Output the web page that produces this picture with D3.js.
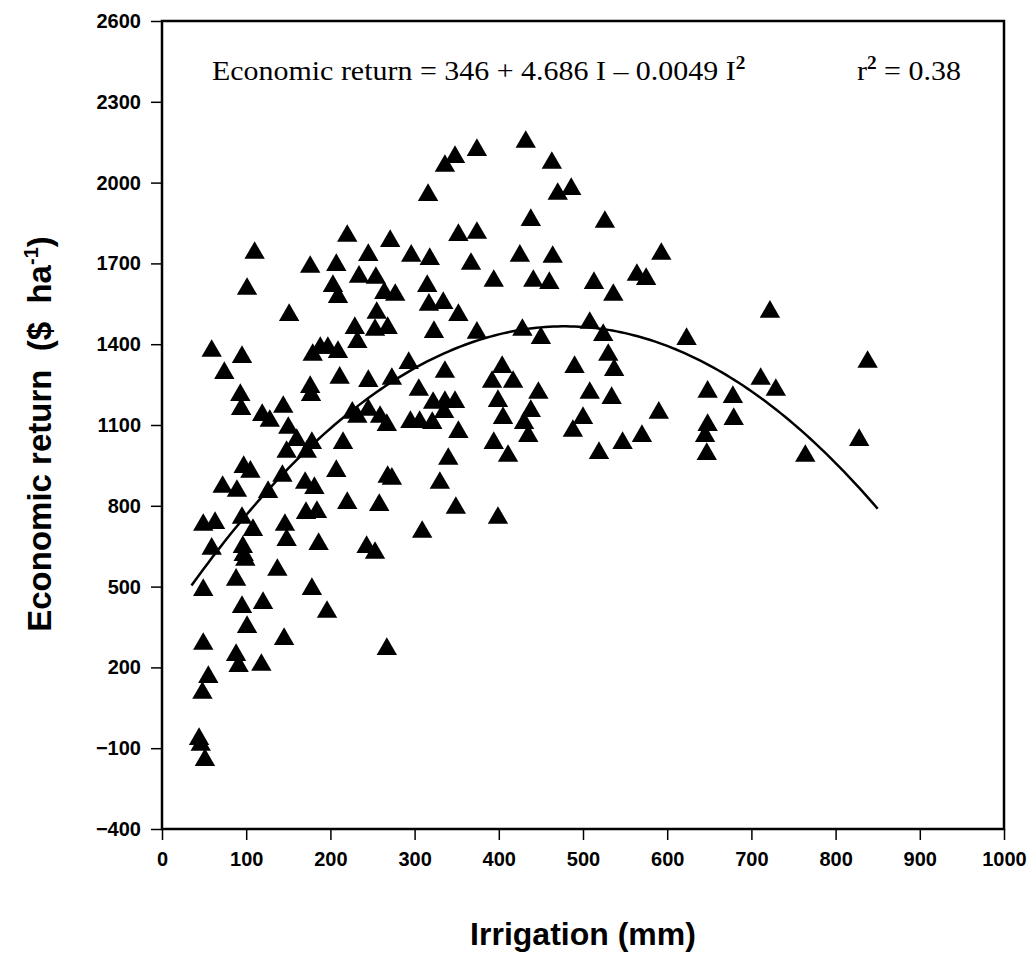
<!DOCTYPE html>
<html>
<head>
<meta charset="utf-8">
<script src="https://cdn.jsdelivr.net/npm/d3@7"></script>
<style>
  body { margin: 0; background: #fff; }
</style>
</head>
<body>
<svg id="chart" width="1032" height="969"></svg>
<script>
// observed points (irrigation mm, economic return $/ha)
const irrigation = [
  101, 110, 176, 207, 220, 234, 254, 245, 271, 296, 318, 316, 336, 348, 374, 432,
  463, 470, 486, 438, 526, 352, 374, 425, 464, 593, 367, 394, 441, 460, 513, 564,
  575, 203, 209, 264, 277, 315, 536, 317, 334, 352, 151, 255, 229, 253, 268, 232,
  323, 374, 428, 450, 508, 524, 623, 59, 95, 74, 179, 188, 197, 209, 176, 177,
  211, 245, 273, 293, 336, 404, 490, 530, 537, 722, 838, 711, 729, 678, 679, 648,
  93, 94, 119, 128, 144, 150, 160, 178, 215, 226, 232, 245, 259, 267, 295, 306,
  321, 305, 322, 336, 348, 335, 392, 417, 399, 447, 508, 534, 405, 438, 430, 435,
  500, 488, 590, 648, 645, 352, 394, 411, 519, 547, 570, 647, 764, 828, 148, 172,
  340, 330, 273, 349, 399, 309, 97, 105, 72, 89, 143, 126, 170, 181, 207, 268,
  49, 63, 95, 108, 146, 148, 171, 184, 220, 258, 186, 243, 253, 59, 96, 97,
  99, 137, 49, 88, 95, 120, 101, 145, 178, 196, 49, 267, 88, 91, 118, 55,
  48, 44, 46, 51
];
const economicReturn = [
  1605, 1739, 1687, 1694, 1802, 1650, 1646, 1731, 1783, 1728, 1716, 1954, 2062, 2095, 2121, 2151,
  2073, 1958, 1976, 1861, 1854, 1805, 1813, 1728, 1724, 1735, 1698, 1635, 1635, 1627, 1627, 1657,
  1642, 1616, 1575, 1590, 1583, 1616, 1583, 1546, 1553, 1508, 1508, 1516, 1460, 1453, 1460, 1408,
  1445, 1442, 1453, 1423, 1479, 1434, 1419, 1375, 1352, 1293, 1360, 1386, 1386, 1371, 1241, 1211,
  1275, 1263, 1271, 1330, 1297, 1315, 1315, 1360, 1304, 1520, 1334, 1271, 1230, 1204, 1122, 1223,
  1211, 1159, 1137, 1115, 1167, 1089, 1044, 1033, 1033, 1145, 1130, 1156, 1130, 1100, 1111, 1111,
  1107, 1230, 1182, 1185, 1185, 1148, 1260, 1260, 1189, 1219, 1219, 1200, 1126, 1152, 1107, 1059,
  1126, 1078, 1145, 1100, 1059, 1074, 1033, 985, 996, 1033, 1059, 992, 985, 1044, 1000, 1000,
  974, 885, 900, 792, 755, 703, 944, 926, 870, 855, 911, 851, 885, 866, 929, 907,
  729, 736, 755, 710, 729, 673, 773, 777, 810, 803, 658, 647, 625, 640, 647, 617,
  599, 562, 487, 525, 424, 439, 350, 305, 491, 406, 287, 268, 246, 205, 209, 164,
  105, -66, -88, -144
];

// quadratic fit shown on the chart
const fitIntercept = 346;
const fitLinear = 4.686;
const fitQuadratic = -0.0049;
const fitRange = [35, 850];

const xTicks = [0, 100, 200, 300, 400, 500, 600, 700, 800, 900, 1000];
const yTicks = [-400, -100, 200, 500, 800, 1100, 1400, 1700, 2000, 2300, 2600];

const margin = { top: 21, left: 162, right: 28, bottom: 140 };
const svg = d3.select("#chart");
const width = +svg.attr("width") - margin.left - margin.right;
const height = +svg.attr("height") - margin.top - margin.bottom;

const x = d3.scaleLinear().domain([0, 1000]).range([0, width]);
const y = d3.scaleLinear().domain([-400, 2600]).range([height, 0]);

const g = svg.append("g").attr("transform", `translate(${margin.left},${margin.top})`);

// axes
const xAxis = g.append("g")
    .attr("transform", `translate(0,${height})`)
    .call(d3.axisBottom(x).tickValues(xTicks).tickSize(11).tickPadding(12).tickFormat(d3.format("d")));
const yAxis = g.append("g")
    .call(d3.axisLeft(y).tickValues(yTicks).tickSize(11).tickPadding(10).tickFormat(d3.format("d")));

[xAxis, yAxis].forEach(a => {
    a.select(".domain").remove();
    a.selectAll(".tick line").attr("stroke", "#000").attr("stroke-width", 1.5);
    a.selectAll(".tick text")
        .attr("fill", "#000")
        .attr("font-family", "Liberation Sans Narrow, Arial Narrow, sans-serif")
        .attr("font-weight", "bold")
        .attr("font-size", 20);
});

// frame
g.append("rect")
    .attr("width", width)
    .attr("height", height)
    .attr("fill", "none")
    .attr("stroke", "#000")
    .attr("stroke-width", 2.5);

// fitted curve
const curveX = d3.range(fitRange[0], fitRange[1] + 1, 5);
const line = d3.line()
    .x(d => x(d))
    .y(d => y(fitIntercept + fitLinear * d + fitQuadratic * d * d));
g.append("path")
    .datum(curveX)
    .attr("d", line)
    .attr("fill", "none")
    .attr("stroke", "#000")
    .attr("stroke-width", 2.5);

// points
const points = irrigation.map((d, i) => ({ x: d, y: economicReturn[i] }));
g.append("g")
    .selectAll("path")
    .data(points)
    .join("path")
    .attr("transform", d => `translate(${x(d.x)},${y(d.y)})`)
    .attr("d", d3.symbol().type(d3.symbolTriangle).size(180))
    .attr("fill", "#000");

// equation
const eq = svg.append("text")
    .attr("transform", "translate(212,80) scale(1.07,1)")
    .attr("font-family", "Liberation Serif, Times New Roman, serif")
    .attr("font-size", 28)
    .attr("fill", "#000");
eq.append("tspan").text("Economic return = 346 + 4.686 I \u2013 0.0049 I");
eq.append("tspan").attr("dy", -11).attr("font-size", 18).attr("font-weight", "bold").text("2");

const r2 = svg.append("text")
    .attr("transform", "translate(857,80) scale(1.07,1)")
    .attr("font-family", "Liberation Serif, Times New Roman, serif")
    .attr("font-size", 28)
    .attr("fill", "#000");
r2.append("tspan").text("r");
r2.append("tspan").attr("dy", -11).attr("font-size", 18).attr("font-weight", "bold").text("2");
r2.append("tspan").attr("dy", 11).text(" = 0.38");

// axis titles
svg.append("text")
    .attr("x", margin.left + width / 2)
    .attr("y", 945)
    .attr("text-anchor", "middle")
    .attr("font-family", "Liberation Sans, Arial, sans-serif")
    .attr("font-weight", "bold")
    .attr("font-size", 32)
    .text("Irrigation (mm)");

const yt = svg.append("text")
    .attr("transform", "translate(51,434) rotate(-90)")
    .attr("text-anchor", "middle")
    .attr("font-family", "Liberation Sans, Arial, sans-serif")
    .attr("font-weight", "bold")
    .attr("font-size", 33)
    .attr("xml:space", "preserve");
yt.append("tspan").text("Economic return  ($  ha");
yt.append("tspan").attr("dy", -13).attr("font-size", 20).text("-1");
yt.append("tspan").attr("dy", 13).text(")");
</script>
</body>
</html>
